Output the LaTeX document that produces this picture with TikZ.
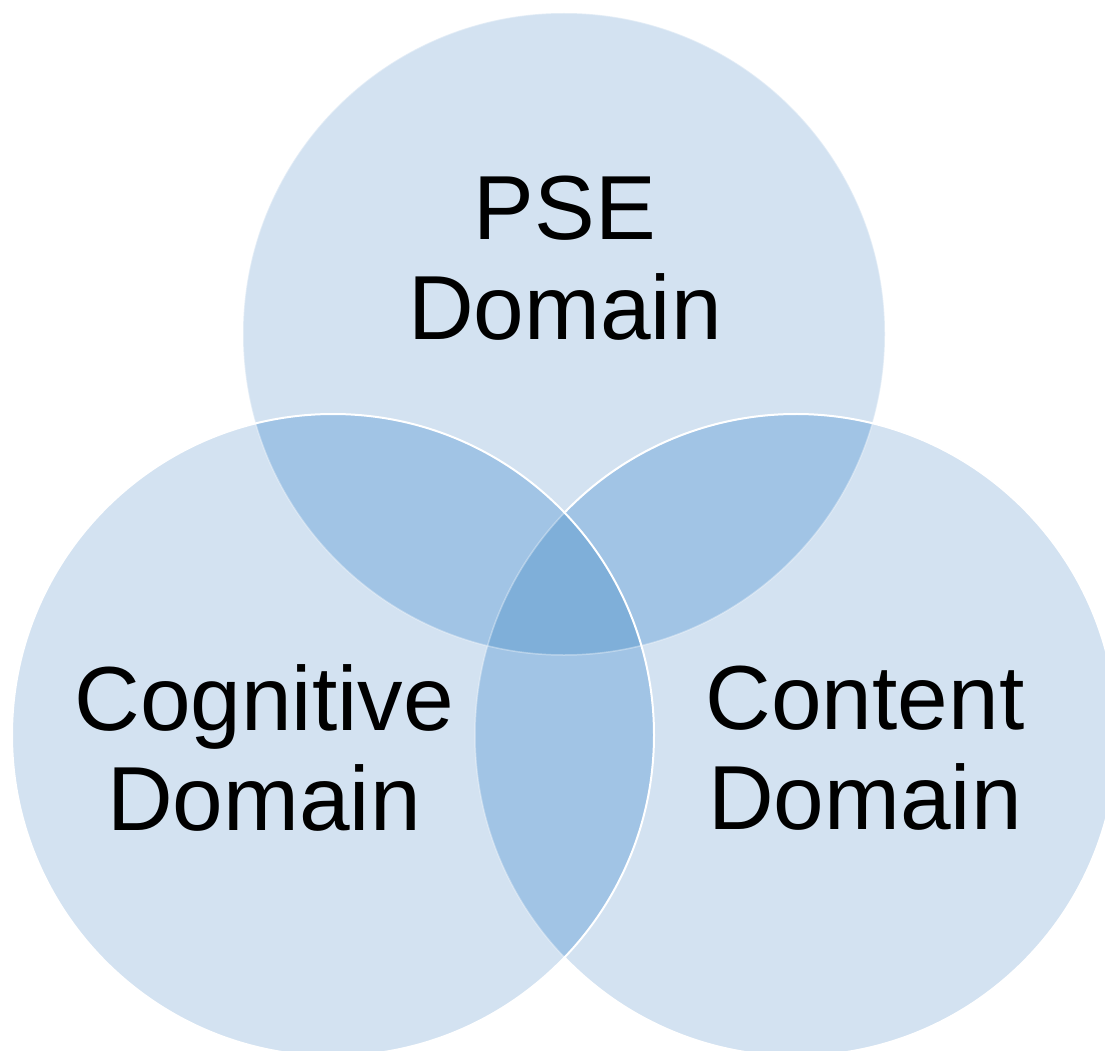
\documentclass[tikz,border=0pt]{standalone}
\usepackage{fontspec}
\setmainfont{Liberation Sans}
\usepackage{tikz}
\definecolor{lightblue}{HTML}{D3E2F1}
\definecolor{midblue}{HTML}{A1C4E5}
\definecolor{darkblue}{HTML}{7FAFD9}
\tikzset{domlabel/.style={font=\fontsize{91}{100}\selectfont, align=center, text=black}}
\tikzset{rim/.style={draw=white, line width=2pt}}
\tikzset{faintrim/.style={draw=white, draw opacity=0.35, line width=1.5pt}}

\begin{document}
\begin{tikzpicture}[x=1pt,y=-1pt]

\newcommand\Rc{321pt}

\useasboundingbox (0,0) rectangle (1105,1051); %% page size

\coordinate (pse) at (564,334);
\coordinate (cog) at (333,735);
\coordinate (con) at (796,735);

%% one circle
\fill[lightblue] (pse) circle (\Rc);
\fill[lightblue] (cog) circle (\Rc);
\fill[lightblue] (con) circle (\Rc);

%% two circles
\begin{scope}
\clip (pse) circle (\Rc);
\fill[midblue] (cog) circle (\Rc);
\fill[midblue] (con) circle (\Rc);
\end{scope}
\begin{scope}
\clip (cog) circle (\Rc);
\fill[midblue] (con) circle (\Rc);
\end{scope}

%% three circles
\begin{scope}
\clip (pse) circle (\Rc);
\clip (cog) circle (\Rc);
\fill[darkblue] (con) circle (\Rc);
\end{scope}

%% white rims
\draw[faintrim] (pse) circle (\Rc);
\draw[faintrim] (con) circle (\Rc);
\draw[rim] ([shift={(-136:\Rc)}]con) arc[start angle=-136, end angle=136, radius=\Rc];
\draw[rim] (cog) circle (\Rc);

\node[domlabel] (psetext) at (565,258) {PSE\\Domain};
\node[domlabel] (cogtext) at (264,748) {Cognitive\\Domain};
\node[domlabel] (context) at (865,748) {Content\\Domain};

\end{tikzpicture}
\end{document}
